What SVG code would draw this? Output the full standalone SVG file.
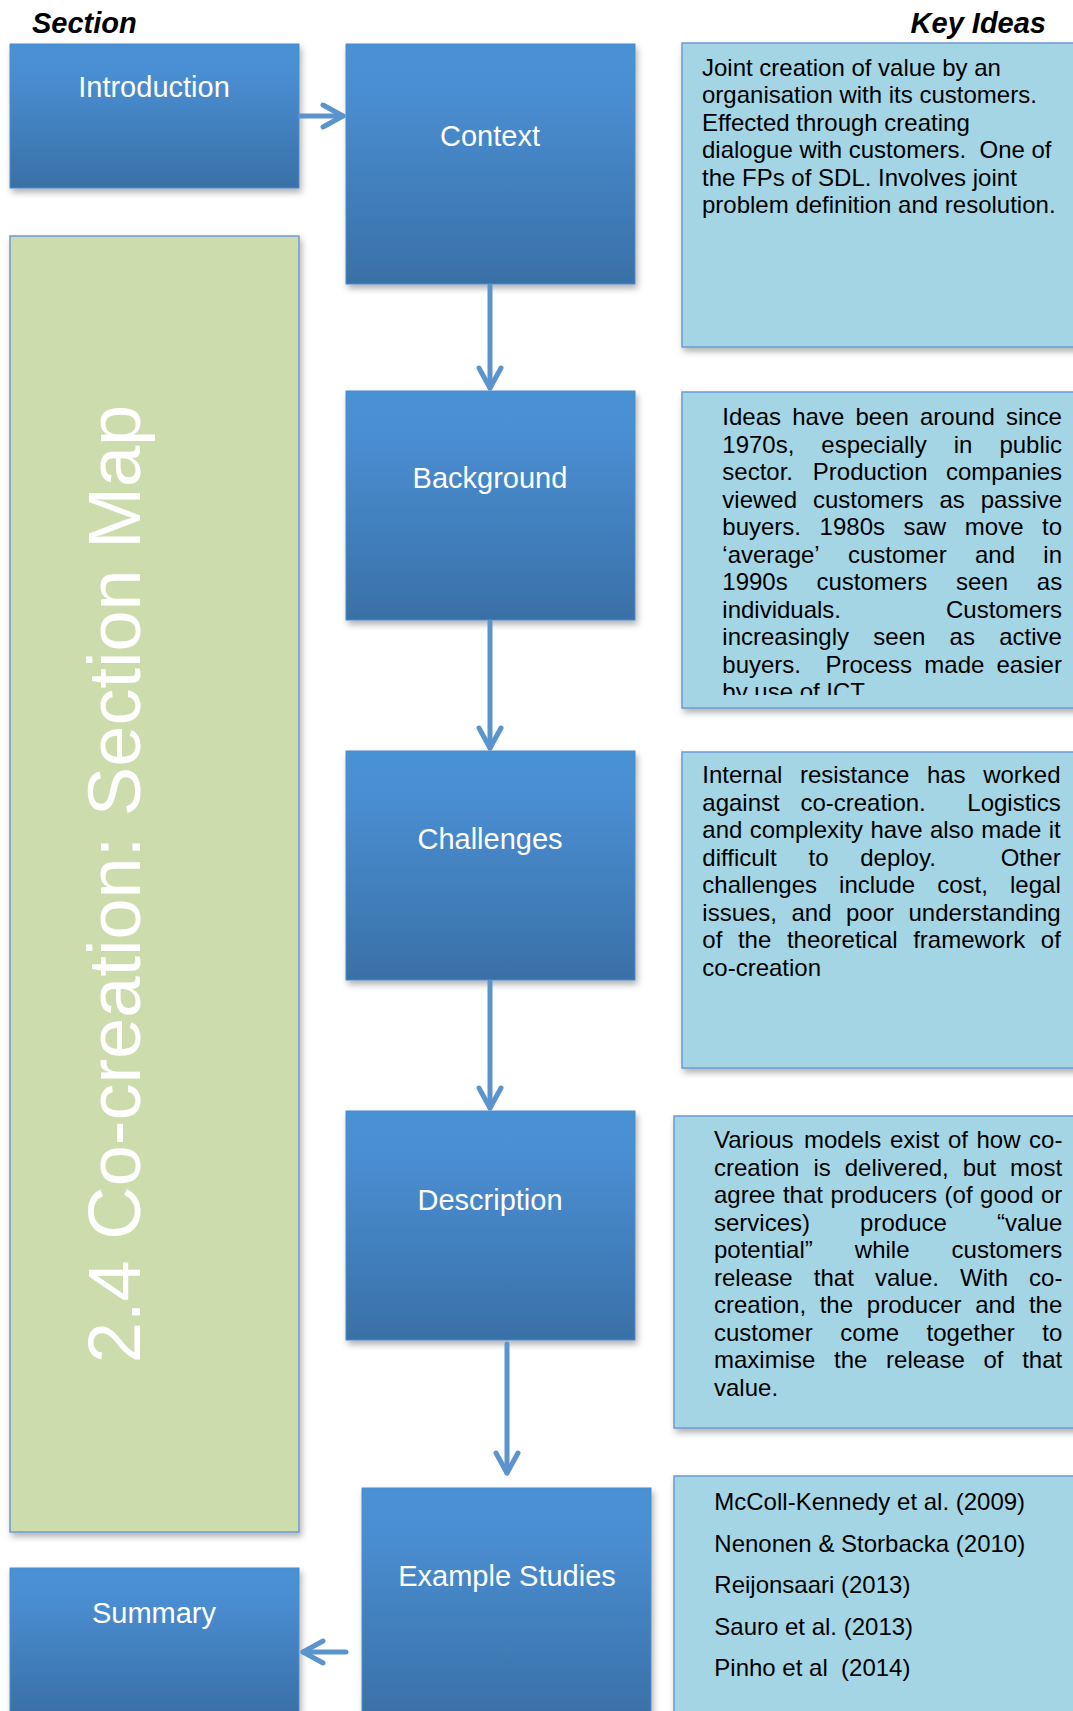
<svg xmlns="http://www.w3.org/2000/svg" width="1073" height="1711" viewBox="0 0 1073 1711">
  <defs>
    <linearGradient id="blueGrad" x1="0" y1="0" x2="0" y2="1">
      <stop offset="0" stop-color="#4A91D5"/>
      <stop offset="0.2" stop-color="#4A8ED2"/>
      <stop offset="1" stop-color="#3970A7"/>
    </linearGradient>
    <filter id="shadow" x="-5%" y="-5%" width="115%" height="115%">
      <feDropShadow dx="2" dy="4" stdDeviation="3" flood-color="#000" flood-opacity="0.3"/>
    </filter>
    <marker id="chevron" markerUnits="userSpaceOnUse" viewBox="-26 -16 32 32" markerWidth="32" markerHeight="32" refX="0" refY="0" orient="auto">
      <path d="M-20,-11 L0,0 L-20,11" fill="none" stroke="#5B94CC" stroke-width="5" stroke-linecap="round" stroke-linejoin="round"/>
    </marker>
    <clipPath id="clipBg">
      <rect x="682" y="392" width="400" height="303"/>
    </clipPath>
    <style>
      .box { fill: url(#blueGrad); stroke: #4F8BCB; stroke-width: 1; filter: url(#shadow); }
      .lbl { font-family: "Liberation Sans", Arial, sans-serif; font-size: 29px; fill: #FFFFFF; text-anchor: middle; }
      .panel { fill: #A3D5E5; stroke: #6C9BD2; stroke-width: 1.5; filter: url(#shadow); }
      .body { font-family: "Liberation Sans", Arial, sans-serif; font-size: 24px; fill: #000000; }
      .head { font-family: "Liberation Sans", Arial, sans-serif; font-size: 29px; font-weight: bold; font-style: italic; fill: #000000; }
      .conn { stroke: #5B94CC; stroke-width: 5; fill: none; stroke-linecap: round; marker-end: url(#chevron); }
    </style>
  </defs>

  <rect width="1073" height="1711" fill="#FFFFFF"/>

  <!-- column headings -->
  <text class="head" x="32" y="33">Section</text>
  <text class="head" x="1046" y="33" text-anchor="end">Key Ideas</text>

  <!-- section map banner -->
  <g id="section-map">
    <rect x="10" y="236" width="289" height="1296" fill="#CDDCAD" stroke="#6C9BD2" stroke-width="1.5" filter="url(#shadow)"/>
    <text transform="translate(140,884) rotate(-90)" font-family="Liberation Sans, Arial, sans-serif" font-size="74" fill="#FFFFFF" text-anchor="middle">2.4 Co-creation: Section Map</text>
  </g>

  <!-- section boxes -->
  <g id="introduction">
    <rect class="box" x="10" y="44" width="289" height="144"/>
    <text class="lbl" x="154" y="97">Introduction</text>
  </g>
  <g id="context">
    <rect class="box" x="346" y="44" width="289" height="240"/>
    <text class="lbl" x="490" y="146">Context</text>
  </g>
  <g id="background">
    <rect class="box" x="346" y="391" width="289" height="229"/>
    <text class="lbl" x="490" y="488">Background</text>
  </g>
  <g id="challenges">
    <rect class="box" x="346" y="751" width="289" height="229"/>
    <text class="lbl" x="490" y="849">Challenges</text>
  </g>
  <g id="description">
    <rect class="box" x="346" y="1111" width="289" height="229"/>
    <text class="lbl" x="490" y="1210">Description</text>
  </g>
  <g id="example-studies">
    <rect class="box" x="362" y="1488" width="289" height="232"/>
    <text class="lbl" x="507" y="1586">Example Studies</text>
  </g>
  <g id="summary">
    <rect class="box" x="10" y="1568" width="289" height="146"/>
    <text class="lbl" x="154" y="1623">Summary</text>
  </g>

  <!-- key idea panels (justified lines set word by word) -->
  <g id="key-context">
    <rect class="panel" x="682" y="43" width="400" height="304"/>
    <text class="body" xml:space="preserve">
      <tspan x="702" y="76">Joint creation of value by an</tspan>
      <tspan x="702" y="103.4">organisation with its customers.</tspan>
      <tspan x="702" y="130.8">Effected through creating</tspan>
      <tspan x="702" y="158.2">dialogue with customers.  One of</tspan>
      <tspan x="702" y="185.6">the FPs of SDL. Involves joint</tspan>
      <tspan x="702" y="213">problem definition and resolution.</tspan>
    </text>
  </g>

  <g id="key-background">
    <rect class="panel" x="682" y="392" width="400" height="316"/>
    <g clip-path="url(#clipBg)">
      <text class="body" y="425"><tspan x="722.3">Ideas</tspan><tspan x="792.2">have</tspan><tspan x="855.4">been</tspan><tspan x="920">around</tspan><tspan x="1005.9">since</tspan></text>
      <text class="body" y="452.5"><tspan x="722.3">1970s,</tspan><tspan x="821.3">especially</tspan><tspan x="953.7">in</tspan><tspan x="999.4">public</tspan></text>
      <text class="body" y="480"><tspan x="722.3">sector.</tspan><tspan x="812.8">Production</tspan><tspan x="946">companies</tspan></text>
      <text class="body" y="507.5"><tspan x="722.3">viewed</tspan><tspan x="812.9">customers</tspan><tspan x="939.5">as</tspan><tspan x="980.7">passive</tspan></text>
      <text class="body" y="535"><tspan x="722.3">buyers.</tspan><tspan x="819.6">1980s</tspan><tspan x="903.5">saw</tspan><tspan x="964.8">move</tspan><tspan x="1042">to</tspan></text>
      <text class="body" y="562.5"><tspan x="722.3">‘average’</tspan><tspan x="848">customer</tspan><tspan x="975">and</tspan><tspan x="1043.3">in</tspan></text>
      <text class="body" y="590"><tspan x="722.3">1990s</tspan><tspan x="816.5">customers</tspan><tspan x="956">seen</tspan><tspan x="1036.8">as</tspan></text>
      <text class="body" y="617.5"><tspan x="722.3">individuals.</tspan><tspan x="1062" text-anchor="end">Customers</tspan></text>
      <text class="body" y="645"><tspan x="722.3">increasingly</tspan><tspan x="873.3">seen</tspan><tspan x="949.6">as</tspan><tspan x="999.2">active</tspan></text>
      <text class="body" y="672.5"><tspan x="722.3">buyers.</tspan><tspan x="825.4">Process</tspan><tspan x="924.3">made</tspan><tspan x="996.5">easier</tspan></text>
      <text class="body" x="722.3" y="700">by use of ICT</text>
    </g>
  </g>

  <g id="key-challenges">
    <rect class="panel" x="682" y="752" width="400" height="316"/>
    <text class="body" y="783.3"><tspan x="702.3">Internal</tspan><tspan x="799.9">resistance</tspan><tspan x="926.9">has</tspan><tspan x="983.2">worked</tspan></text>
    <text class="body" y="810.8"><tspan x="702.3">against</tspan><tspan x="800.4">co-creation.</tspan><tspan x="967.3">Logistics</tspan></text>
    <text class="body" y="838.3"><tspan x="702.3">and</tspan><tspan x="749.7">complexity</tspan><tspan x="870.5">have</tspan><tspan x="929.9">also</tspan><tspan x="981.3">made</tspan><tspan x="1048.7">it</tspan></text>
    <text class="body" y="865.8"><tspan x="702.3">difficult</tspan><tspan x="808.6">to</tspan><tspan x="860.2">deploy.</tspan><tspan x="1000.7">Other</tspan></text>
    <text class="body" y="893.3"><tspan x="702.3">challenges</tspan><tspan x="839.1">include</tspan><tspan x="937.2">cost,</tspan><tspan x="1010">legal</tspan></text>
    <text class="body" y="920.8"><tspan x="702.3">issues,</tspan><tspan x="791.5">and</tspan><tspan x="846">poor</tspan><tspan x="908.5">understanding</tspan></text>
    <text class="body" y="948.3"><tspan x="702.3">of</tspan><tspan x="737.9">the</tspan><tspan x="786.9">theoretical</tspan><tspan x="913.2">framework</tspan><tspan x="1040.8">of</tspan></text>
    <text class="body" x="702.3" y="975.8">co-creation</text>
  </g>

  <g id="key-description">
    <rect class="panel" x="674" y="1116" width="408" height="312"/>
    <text class="body" y="1148.3"><tspan x="714">Various</tspan><tspan x="804">models</tspan><tspan x="890">exist</tspan><tspan x="947.9">of</tspan><tspan x="976.5">how</tspan><tspan x="1029.1">co-</tspan></text>
    <text class="body" y="1175.8"><tspan x="714">creation</tspan><tspan x="813.4">is</tspan><tspan x="844.7">delivered,</tspan><tspan x="962.7">but</tspan><tspan x="1010.1">most</tspan></text>
    <text class="body" y="1203.3"><tspan x="714">agree</tspan><tspan x="782.9">that</tspan><tspan x="830.4">producers</tspan><tspan x="944.6">(of</tspan><tspan x="980.1">good</tspan><tspan x="1041">or</tspan></text>
    <text class="body" y="1230.8"><tspan x="714">services)</tspan><tspan x="860.1">produce</tspan><tspan x="996.9">“value</tspan></text>
    <text class="body" y="1258.3"><tspan x="714">potential”</tspan><tspan x="854.8">while</tspan><tspan x="951.6">customers</tspan></text>
    <text class="body" y="1285.8"><tspan x="714">release</tspan><tspan x="813.8">that</tspan><tspan x="874.9">value.</tspan><tspan x="960">With</tspan><tspan x="1029.1">co-</tspan></text>
    <text class="body" y="1313.3"><tspan x="714">creation,</tspan><tspan x="819.7">the</tspan><tspan x="866.8">producer</tspan><tspan x="975.2">and</tspan><tspan x="1028.9">the</tspan></text>
    <text class="body" y="1340.8"><tspan x="714">customer</tspan><tspan x="840.3">come</tspan><tspan x="926.6">together</tspan><tspan x="1042.3">to</tspan></text>
    <text class="body" y="1368.3"><tspan x="714">maximise</tspan><tspan x="834">the</tspan><tspan x="886.1">release</tspan><tspan x="983.5">of</tspan><tspan x="1022.2">that</tspan></text>
    <text class="body" x="714" y="1395.8">value.</text>
  </g>

  <g id="key-example-studies">
    <rect class="panel" x="674" y="1476" width="408" height="250"/>
    <text class="body" xml:space="preserve">
      <tspan x="714.3" y="1510">McColl-Kennedy et al. (2009)</tspan>
      <tspan x="714.3" y="1551.5">Nenonen &amp; Storbacka (2010)</tspan>
      <tspan x="714.3" y="1593">Reijonsaari (2013)</tspan>
      <tspan x="714.3" y="1634.5">Sauro et al. (2013)</tspan>
      <tspan x="714.3" y="1676">Pinho et al  (2014)</tspan>
    </text>
  </g>

  <!-- connectors -->
  <g id="connectors">
    <line class="conn" x1="300" y1="116" x2="343" y2="116"/>
    <line class="conn" x1="490" y1="286" x2="490" y2="388"/>
    <line class="conn" x1="490" y1="622" x2="490" y2="748"/>
    <line class="conn" x1="490" y1="982" x2="490" y2="1108"/>
    <line class="conn" x1="507" y1="1344" x2="507" y2="1473"/>
    <line class="conn" x1="346" y1="1652" x2="303" y2="1652"/>
  </g>
</svg>
